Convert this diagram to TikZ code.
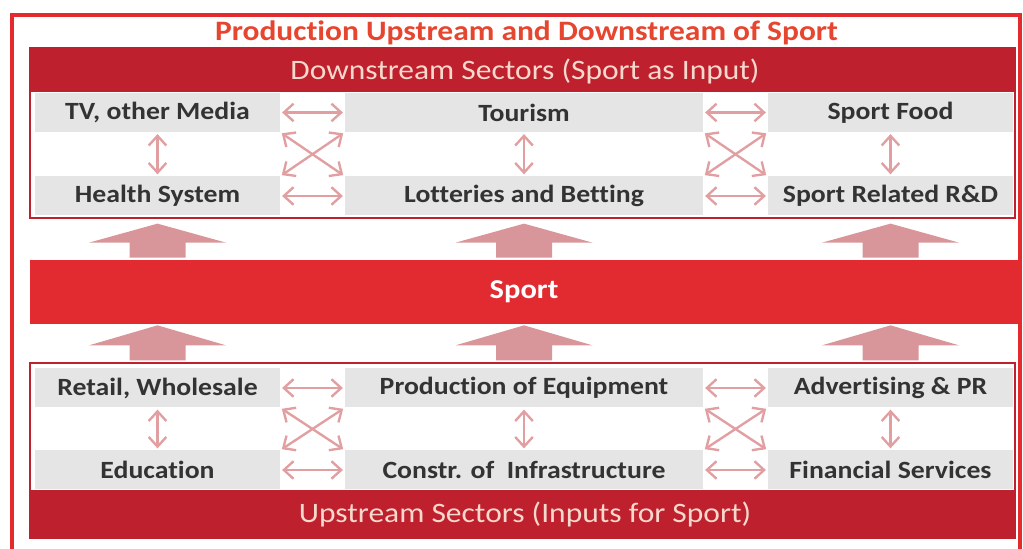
\documentclass[tikz,border=0pt]{standalone}
\usepackage{fontspec}
\setmainfont{Carlito}[FakeStretch=1.12, Ligatures=NoCommon]
\usetikzlibrary{arrows.meta}
\definecolor{framered}{HTML}{E42A2C}
\definecolor{titlered}{HTML}{E6452F}
\definecolor{boxred}{HTML}{BE202E}
\definecolor{sportred}{HTML}{E12B31}
\definecolor{arrowpink}{HTML}{D9969A}
\definecolor{linkpink}{HTML}{E19FA1}
\definecolor{cellgrey}{HTML}{E5E5E5}
\definecolor{textgrey}{HTML}{333333}
\definecolor{headtext}{HTML}{F7D8CC}
\begin{document}
\begin{tikzpicture}[
  cell/.style={fill=cellgrey, text=textgrey, minimum height=0.78cm, inner sep=0pt,
    font=\bfseries\fontsize{14.1}{16}\selectfont},
  narrow/.style={cell, minimum width=4.90cm},
  wide/.style={cell, minimum width=7.16cm},
  headline/.style={text=headtext, font=\fontsize{16}{18}\selectfont},
  link/.style={draw=linkpink, line width=1.35pt,
    {Straight Barb[length=5.5pt,width=10pt]}-{Straight Barb[length=5.5pt,width=10pt]},
    shorten <=1pt, shorten >=1pt},
  bigarrow/.style={fill=arrowpink}
]
\useasboundingbox (0,0) rectangle (20.46,10.98);
\draw[framered, line width=2.2pt] (0.24,-0.5) -- (0.24,10.68) -- (20.40,10.68) -- (20.40,-0.5);
\node[text=titlered, font=\bfseries\fontsize{16}{18}\selectfont] (title) at (10.53,10.32)
  {Production Upstream and Downstream of Sport};

% downstream block
\draw[boxred, line width=1.5pt] (0.60,6.62) rectangle (20.30,10.02);
\fill[boxred] (0.60,9.14) rectangle (20.30,10.02);
\node[headline] (down) at (10.50,9.55) {Downstream Sectors (Sport as Input)};
\node[narrow] (tv) at (3.15,8.73) {TV, other Media};
\node[wide] (tour) at (10.48,8.73) {Tourism};
\node[narrow] (food) at (17.81,8.73) {Sport Food};
\node[narrow] (health) at (3.15,7.06) {Health System};
\node[wide] (lot) at (10.48,7.06) {Lotteries and Betting};
\node[narrow] (rd) at (17.81,7.06) {Sport Related R\&D};

% sport
\node[fill=sportred, minimum width=19.76cm, minimum height=1.28cm, inner sep=0pt,
  text=white, font=\bfseries\fontsize{15.5}{17}\selectfont] (sport) at (10.48,5.14) {Sport};

% upstream block
\draw[boxred, line width=1.5pt] (0.60,0.22) rectangle (20.30,3.72);
\fill[boxred] (0.60,0.22) rectangle (20.30,1.17);
\node[headline] (up) at (10.50,0.70) {Upstream Sectors (Inputs for Sport)};
\node[narrow] (retail) at (3.15,3.22) {Retail, Wholesale};
\node[wide] (equip) at (10.48,3.22) {Production of Equipment};
\node[narrow] (adv) at (17.81,3.22) {Advertising \& PR};
\node[narrow] (edu) at (3.15,1.58) {Education};
\node[wide] (constr) at (10.48,1.58) {Constr. of~ Infrastructure};
\node[narrow] (fin) at (17.81,1.58) {Financial Services};

% big arrows
\foreach \n in {health,lot,rd}
  \fill[bigarrow, shift={(sport.north -| \n)}] (-0.56,0.04) -- (-0.56,0.34) -- (-1.37,0.34)
    -- (0,0.72) -- (1.37,0.34) -- (0.56,0.34) -- (0.56,0.04) -- cycle;
\foreach \n in {retail,equip,adv}
  \fill[bigarrow, shift={(sport.south -| \n)}] (-0.56,-0.72) -- (-0.56,-0.42) -- (-1.37,-0.42)
    -- (0,-0.02) -- (1.37,-0.42) -- (0.56,-0.42) -- (0.56,-0.72) -- cycle;

% links between sectors
\foreach \a/\b/\c/\d in {tv/tour/health/lot, tour/food/lot/rd, retail/equip/edu/constr, equip/adv/constr/fin} {
  \draw[link] (\a) -- (\b);
  \draw[link] (\c) -- (\d);
  \draw[link] (\a.south east) -- (\d.north west);
  \draw[link] (\b.south west) -- (\c.north east);
}
\foreach \a/\b in {tv/health, tour/lot, food/rd, retail/edu, equip/constr, adv/fin}
  \draw[link] (\a) -- (\b);
\end{tikzpicture}
\end{document}
